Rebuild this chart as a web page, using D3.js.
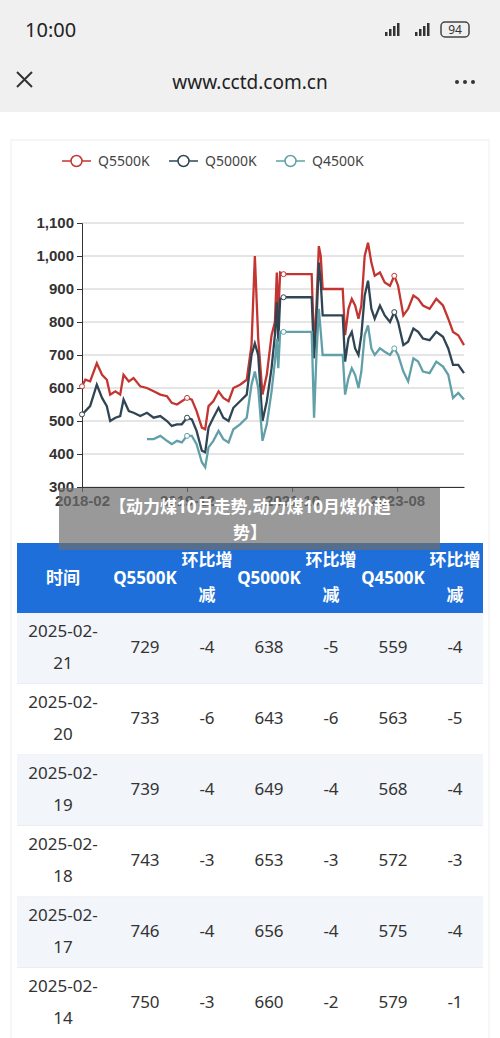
<!DOCTYPE html>
<html><head><meta charset="utf-8">
<script src="https://cdn.jsdelivr.net/npm/d3@7"></script>
<style>
body{margin:0;width:500px;height:1038px;overflow:hidden;background:#fff;font-family:"Noto Sans","Noto Sans CJK SC",sans-serif;}
</style></head><body>
<svg id="c" width="500" height="1038"></svg>
<script>
// months since 2018-02
var months = [0.0,0.7,1.7,3.1,4.2,5.2,5.9,7.0,8.0,8.7,9.8,10.8,12.2,13.6,15.0,16.4,17.8,18.8,19.9,20.9,
  22.0,23.0,24.0,25.1,25.8,26.5,27.5,28.6,29.6,30.7,31.7,33.1,34.5,35.5,36.2,36.9,37.8,38.7,39.7,40.4,
  40.8,41.1,41.5,42.2,48.1,48.6,49.1,49.6,50.0,50.4,54.6,55.1,55.8,56.5,57.2,57.9,58.5,59.2,59.9,60.6,
  61.3,62.4,63.4,64.5,65.4,66.2,67.3,68.3,69.4,70.4,71.4,72.8,74.2,75.6,76.7,77.7,78.8,80.0];
var q5500 = [605,625,620,675,640,625,580,590,580,640,620,630,605,600,590,580,575,555,550,560,
  570,565,530,480,475,545,560,590,570,560,600,610,625,730,1000,750,580,640,760,800,
  950,820,950,945,945,720,850,1030,1000,900,900,760,840,870,850,810,850,1000,1040,980,
  940,950,920,910,940,910,820,840,880,870,850,840,870,850,810,770,760,730];
var q5000 = [520,530,545,610,570,545,500,510,515,565,530,525,515,525,510,515,500,485,490,490,
  510,505,470,410,405,480,510,540,510,500,540,560,580,700,735,700,500,560,660,760,
  860,740,870,875,875,690,800,980,920,820,820,680,750,770,720,700,760,880,925,840,
  810,850,820,800,830,800,730,740,780,770,750,745,770,755,720,670,670,645];
var q4500 = [null,null,null,null,null,null,null,null,null,null,null,null,null,
  445,445,455,440,430,440,435,455,455,430,375,360,420,440,470,445,435,475,490,510,
  610,650,600,440,490,590,680,750,660,770,770,770,510,700,840,770,700,700,580,630,
  660,640,600,650,760,790,720,700,720,710,700,720,700,650,620,690,680,650,645,680,
  665,640,570,585,565];
var seriesNames = ["Q5500K","Q5000K","Q4500K"];
var seriesColors = ["#c23531","#2f4554","#61a0a8"];
var markIdx = [0,20,43,64];
var yTicks = [300,400,500,600,700,800,900,1000,1100];
var xTickMonths = [0,22,44,66];
var xTickLabels = ["2018-02","2019-12","2021-10","2023-08"];

var headers = ["时间","Q5500K","环比增减","Q5000K","环比增减","Q4500K","环比增减"];
var rowDates = ["2025-02-21","2025-02-20","2025-02-19","2025-02-18","2025-02-17","2025-02-14"];
var t5500 = [729,733,739,743,746,750], d5500 = [-4,-6,-4,-3,-4,-3];
var t5000 = [638,643,649,653,656,660], d5000 = [-5,-6,-4,-3,-4,-2];
var t4500 = [559,563,568,572,575,579], d4500 = [-4,-5,-4,-3,-4,-1];

var svg = d3.select("#c");

// phone chrome
svg.append("rect").attr("width",500).attr("height",112).attr("fill","#f0f0f0");
svg.append("text").attr("x",25).attr("y",37).attr("font-size",20).attr("fill","#222").text("10:00");
svg.append("text").attr("x",250).attr("y",89).attr("text-anchor","middle").attr("font-size",19).attr("fill","#222").text("www.cctd.com.cn");
svg.append("path").attr("d","M17,72 L32,87 M32,72 L17,87").attr("stroke","#333").attr("stroke-width",2);
[457,465,473].forEach(function(x){svg.append("circle").attr("cx",x).attr("cy",82).attr("r",2).attr("fill","#333");});
svg.append("rect").attr("x",441).attr("y",22).attr("width",28).attr("height",15).attr("rx",4).attr("fill","none").attr("stroke","#444").attr("stroke-width",1.5);
svg.append("text").attr("x",455).attr("y",34).attr("text-anchor","middle").attr("font-size",12).attr("fill","#333").text("94");
[[385,36],[415,36]].forEach(function(p){
  for(var i=0;i<4;i++) svg.append("rect").attr("x",p[0]+i*4).attr("y",p[1]-4-i*3).attr("width",2.5).attr("height",4+i*3).attr("fill","#333");
});

// card
svg.append("rect").attr("x",11).attr("y",140).attr("width",478).attr("height",900).attr("fill","#fff").attr("stroke","#eee");

var x = d3.scaleLinear().domain([0,80]).range([82,464]);
var y = d3.scaleLinear().domain([300,1100]).range([487,223]);
var g = svg.append("g");
g.selectAll(".grid").data(yTicks).enter().append("line")
  .attr("x1",82).attr("x2",464).attr("y1",y).attr("y2",y).attr("stroke","#ccc");
var ya = g.append("g").attr("transform","translate(82,0)")
  .call(d3.axisLeft(y).tickValues(yTicks).tickFormat(d3.format(",")).tickSize(5));
ya.selectAll("text").attr("font-size",15).attr("font-weight","bold").attr("fill","#333");
ya.selectAll("path,line").attr("stroke","#333");
var xa = g.append("g").attr("transform","translate(0,487)")
  .call(d3.axisBottom(x).tickValues(xTickMonths).tickFormat(function(d,i){return xTickLabels[i];}).tickSize(5).tickSizeOuter(0));
xa.selectAll("text").attr("font-size",15).attr("font-weight","bold").attr("fill","#333");
xa.selectAll("path,line").attr("stroke","#333");

[q5500,q5000,q4500].forEach(function(vals,k){
  var line = d3.line().defined(function(d){return d!=null;})
    .x(function(d,i){return x(months[i]);}).y(function(d){return y(d);});
  g.append("path").datum(vals).attr("d",line).attr("fill","none")
    .attr("stroke",seriesColors[k]).attr("stroke-width",2.3);
  markIdx.forEach(function(i){
    if(vals[i]==null) return;
    g.append("circle").attr("cx",x(months[i])).attr("cy",y(vals[i])).attr("r",2.5)
      .attr("fill","#fff").attr("stroke",seriesColors[k]).attr("stroke-width",1);
  });
});

// legend
var lx = [62,169,276];
seriesNames.forEach(function(n,k){
  var lg = svg.append("g").attr("transform","translate("+lx[k]+",161)");
  lg.append("line").attr("x1",0).attr("x2",29).attr("stroke",seriesColors[k]).attr("stroke-width",1.5);
  lg.append("circle").attr("cx",14.5).attr("r",5.5).attr("fill","#fff").attr("stroke",seriesColors[k]).attr("stroke-width",1.5);
  lg.append("text").attr("x",36).attr("y",5).attr("font-size",14).attr("fill","#444").text(n);
});

// table
var colX = [63,145,207,269,331,393,455];
svg.append("rect").attr("x",17).attr("y",543).attr("width",466).attr("height",70).attr("fill","#1e6fd9");
headers.forEach(function(h,i){
  var t = svg.append("text").attr("x",colX[i]).attr("text-anchor","middle").attr("font-size",17)
    .attr("font-weight","bold").attr("fill","#fff");
  if(h.indexOf("环比")==0){
    t.append("tspan").attr("x",colX[i]).attr("y",566).text("环比增");
    t.append("tspan").attr("x",colX[i]).attr("y",601).text("减");
  } else t.attr("y",584).text(h);
});
rowDates.forEach(function(dt,r){
  var y0 = 613 + r*71;
  svg.append("rect").attr("x",17).attr("y",y0).attr("width",466).attr("height",71)
    .attr("fill", r%2==0 ? "#f2f5fa" : "#fff");
  svg.append("line").attr("x1",17).attr("x2",483).attr("y1",y0+71).attr("y2",y0+71).attr("stroke","#e3e6ec");
  var p = dt.split("-");
  var t = svg.append("text").attr("text-anchor","middle").attr("font-size",17).attr("fill","#333");
  t.append("tspan").attr("x",colX[0]).attr("y",y0+24).text(p[0]+"-"+p[1]+"-");
  t.append("tspan").attr("x",colX[0]).attr("y",y0+56).text(p[2]);
  [t5500[r],d5500[r],t5000[r],d5000[r],t4500[r],d4500[r]].forEach(function(v,i){
    svg.append("text").attr("x",colX[i+1]).attr("y",y0+40).attr("text-anchor","middle")
      .attr("font-size",17).attr("fill","#333").text(v<0 ? "-"+Math.abs(v) : v);
  });
});

// overlay title
svg.append("rect").attr("x",59).attr("y",488).attr("width",381).attr("height",62).attr("fill","rgba(110,110,110,0.7)");
var tt = svg.append("text").attr("text-anchor","middle").attr("font-size",17).attr("font-weight","bold").attr("fill","#fff");
tt.append("tspan").attr("x",250).attr("y",513).text("【动力煤10月走势,动力煤10月煤价趋");
tt.append("tspan").attr("x",250).attr("y",539).text("势】");
</script>
</body></html>
